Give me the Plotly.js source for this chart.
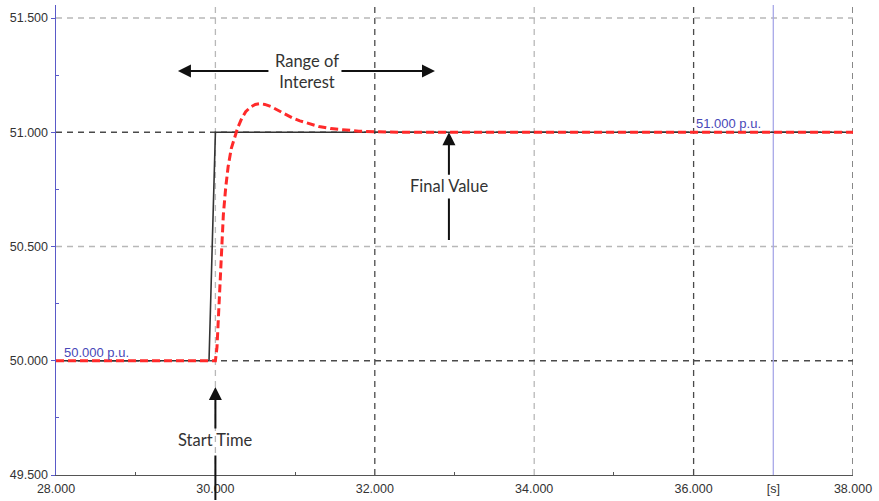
<!DOCTYPE html>
<html>
<head>
<meta charset="utf-8">
<script src="https://cdn.plot.ly/plotly-3.0.1.min.js"></script>
<style>html,body{margin:0;padding:0;background:#fff;}#chart{width:879px;height:501px;}</style>
</head>
<body>
<div id="chart"></div>
<script>
// ---- data ----
const stepTime = [28.0, 29.92, 30.0, 38.0];
const stepValue = [50.0, 50.0, 51.0, 51.0];

const respTime = [28.0, 30.0, 30.02, 30.04, 30.06, 30.08, 30.1, 30.13, 30.16, 30.2, 30.24, 30.28, 30.33, 30.38, 30.44, 30.5, 30.56, 30.62, 30.7, 30.78, 30.87, 30.96, 31.06, 31.18, 31.3, 31.45, 31.6, 31.8, 32.0, 32.3, 33.0, 38.0];
const respValue = [50.0, 50.0, 50.06, 50.2, 50.38, 50.52, 50.64, 50.76, 50.85, 50.93, 50.98, 51.02, 51.06, 51.09, 51.11, 51.122, 51.125, 51.122, 51.112, 51.097, 51.08, 51.064, 51.05, 51.036, 51.025, 51.016, 51.01, 51.005, 51.002, 51.0, 51.0, 51.0];

const xTickVals = [28, 30, 32, 34, 36, 37, 38];
const xTickText = ['28.000', '30.000', '32.000', '34.000', '36.000', '[s]', '38.000'];
const yTickVals = [49.5, 50.0, 50.5, 51.0, 51.5];
const yTickText = ['49.500', '50.000', '50.500', '51.000', '51.500'];
const xMinor = [29, 31, 33, 35];
const yMinor = [49.75, 50.25, 50.75, 51.25];

const xGridDark = [32, 36, 38];
const xGridLight = [30, 34];
const yGridDark = [50.0, 51.0];
const yGridLight = [50.5, 51.5];
const cursorTime = 37.0;

const startLabel = 'Start Time';
const startTime = 30.0;
const finalLabel = 'Final Value';
const finalTime = 32.93;
const finalValue = 51.0;
const rangeLabel = 'Range of<br>Interest';
const valueLabels = ['50.000 p.u.', '51.000 p.u.'];
const valueLabelTime = [28.08, 36.0];
const valueLabelValue = [50.0, 51.0];

// ---- layout helpers ----
const shapes = [];
function vline(x, color) {
  shapes.push({type: 'line', xref: 'x', yref: 'paper', x0: x, x1: x, y0: 0, y1: 1, layer: 'below',
    line: {color: color, width: 1.3, dash: '6px,5px'}});
}
function hline(y, color) {
  shapes.push({type: 'line', xref: 'paper', yref: 'y', x0: 0, x1: 1, y0: y, y1: y, layer: 'below',
    line: {color: color, width: 1.3, dash: '6px,5px'}});
}
xGridLight.forEach(v => vline(v, '#b8b8b8'));
xGridDark.forEach(v => vline(v, '#4a4a4a'));
yGridLight.forEach(v => hline(v, '#b8b8b8'));
yGridDark.forEach(v => hline(v, '#4a4a4a'));
shapes.push({type: 'line', xref: 'x', yref: 'paper', x0: cursorTime, x1: cursorTime, y0: 0, y1: 1, layer: 'below',
  line: {color: '#a8a8e8', width: 1.3}});

const annFont = {family: 'Lato, "Open Sans", sans-serif', size: 16.5, color: '#333333'};
const arrowCol = '#111111';
const annotations = [
  // Range of Interest
  {x: 31.15, y: 51.268, xref: 'x', yref: 'y', text: rangeLabel, showarrow: false, font: annFont, align: 'center'},
  {x: 29.53, y: 51.268, xref: 'x', yref: 'y', text: '', showarrow: true, ax: 92, ay: 0,
    arrowhead: 2, arrowsize: 1.3, arrowwidth: 2, arrowcolor: arrowCol, standoff: 0},
  {x: 32.755, y: 51.268, xref: 'x', yref: 'y', text: '', showarrow: true, ax: -95, ay: 0,
    arrowhead: 2, arrowsize: 1.3, arrowwidth: 2, arrowcolor: arrowCol, standoff: 0},
  // Final Value
  {x: finalTime, y: finalValue, xref: 'x', yref: 'y', text: finalLabel, showarrow: true, ax: 0, ay: 54,
    arrowhead: 2, arrowsize: 1.3, arrowwidth: 2, arrowcolor: arrowCol, standoff: 0, font: annFont},
  {x: finalTime, y: 50.528, xref: 'x', yref: 'y', text: '', showarrow: true, ax: 0, ay: -43,
    arrowhead: 0, arrowwidth: 2, arrowcolor: arrowCol, standoff: 0},
  // Start Time
  {x: startTime, y: 49.885, xref: 'x', yref: 'y', text: startLabel, showarrow: true, ax: 0, ay: 53,
    arrowhead: 2, arrowsize: 1.3, arrowwidth: 2, arrowcolor: arrowCol, standoff: 0, font: annFont},
  {x: startTime, y: -0.053, xref: 'x', yref: 'paper', text: '', showarrow: true, ax: 0, ay: -46,
    arrowhead: 0, arrowwidth: 2, arrowcolor: arrowCol, standoff: 0}
];
valueLabels.forEach((t, i) => {
  annotations.push({x: valueLabelTime[i], y: valueLabelValue[i], xref: 'x', yref: 'y', text: t,
    showarrow: false, xanchor: 'left', yanchor: 'bottom', yshift: -1,
    font: {family: '"Liberation Sans", Arial, sans-serif', size: 13, color: '#4848b8'}});
});

const traces = [
  {x: stepTime, y: stepValue, type: 'scatter', mode: 'lines', line: {color: '#333333', width: 1.6}, hoverinfo: 'skip'},
  {x: respTime, y: respValue, type: 'scatter', mode: 'lines', line: {color: '#ff2a2a', width: 3, dash: '8px,4px'}, hoverinfo: 'skip'}
];

const tickFont = {family: '"Liberation Sans", Arial, sans-serif', size: 12.5, color: '#333333'};
const layout = {
  width: 879, height: 501,
  margin: {l: 56, r: 26, t: 5, b: 26, pad: 0},
  paper_bgcolor: '#ffffff', plot_bgcolor: '#ffffff',
  showlegend: false,
  xaxis: {range: [28, 38], tickmode: 'array', tickvals: xTickVals, ticktext: xTickText,
    showgrid: false, zeroline: false, showline: true, linecolor: '#555555', linewidth: 1.3,
    ticks: 'outside', ticklen: 0, tickfont: tickFont, ticklabelstandoff: 2,
    minor: {tickmode: 'array', tickvals: xMinor, ticks: 'inside', ticklen: 3, tickcolor: '#555555', showgrid: false}},
  yaxis: {range: [49.5, 51.557], tickmode: 'array', tickvals: yTickVals, ticktext: yTickText,
    showgrid: false, zeroline: false, showline: true, linecolor: '#5a5ac8', linewidth: 1.5,
    ticks: 'outside', ticklen: 4, tickcolor: '#5a5ac8', tickfont: tickFont,
    minor: {tickmode: 'array', tickvals: yMinor, ticks: 'inside', ticklen: 3, tickcolor: '#5a5ac8', showgrid: false}},
  shapes: shapes,
  annotations: annotations
};

Plotly.newPlot('chart', traces, layout, {displayModeBar: false, staticPlot: true});
</script>
</body>
</html>
